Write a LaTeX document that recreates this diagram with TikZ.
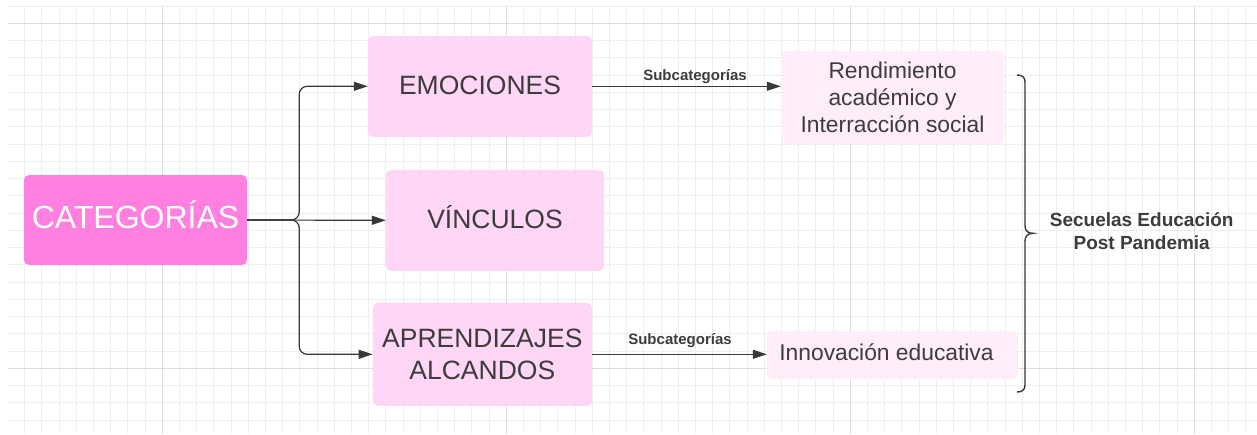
\documentclass[tikz,border=0pt]{standalone}
\usepackage{fontspec}
\setmainfont{Liberation Sans}
\usetikzlibrary{arrows.meta,calc}
\definecolor{catpink}{HTML}{FF80DF}
\definecolor{boxpink}{HTML}{FFD6F5}
\definecolor{palepink}{HTML}{FFEEFA}
\definecolor{txt}{HTML}{3C3C3C}
\definecolor{lin}{HTML}{383838}
\definecolor{gridminor}{HTML}{EEEEEE}
\definecolor{gridmajor}{HTML}{DDDDDD}
\tikzset{
  catbox/.style={rectangle, rounded corners=5pt, fill=catpink, text=white,
    font=\fontsize{32}{38}\selectfont, minimum width=223pt, minimum height=90pt, inner sep=0pt},
  mainbox/.style={rectangle, rounded corners=5pt, fill=boxpink, text=txt,
    font=\fontsize{26.5}{32}\selectfont, align=center, inner sep=0pt},
  subbox/.style={rectangle, rounded corners=5pt, fill=palepink, text=txt,
    font=\fontsize{22.8}{27.3}\selectfont, align=center, inner sep=0pt},
  conn/.style={draw=lin, line width=1.2pt, rounded corners=8pt, -{Triangle[length=14pt,width=9pt]}},
  sublabel/.style={font=\bfseries\fontsize{15}{18}\selectfont, text=txt, inner sep=0pt},
  endlabel/.style={font=\bfseries\fontsize{19}{23.3}\selectfont, text=txt, align=center, inner sep=0pt},
}
\begin{document}
\begin{tikzpicture}[x=1pt,y=-1pt]
\useasboundingbox (0,0) rectangle (1257,434);
\fill[white] (0,0) rectangle (1257,434);
\begin{scope}
  \clip (8,6) rectangle (1257,434);
  \foreach \i in {-9,...,64} \draw[gridminor, line width=1pt] ({162.3+17.2*\i},0) -- ++(0,434);
  \foreach \i in {-2,...,24} \draw[gridminor, line width=1pt] (0,{23.3+17.25*\i}) -- ++(1257,0);
  \foreach \x in {162.3,506.3,850.3,1194.3} \draw[gridmajor, line width=1.4pt] (\x,0) -- ++(0,434);
  \foreach \y in {23.3,368.3} \draw[gridmajor, line width=1.4pt] (0,\y) -- ++(1257,0);
\end{scope}

\node[catbox, text height=24pt, text depth=7.4pt] (cat) at (135.5,220) {CATEGORÍAS};
\node[mainbox, minimum width=224pt, minimum height=101pt, text height=20pt, text depth=4.4pt] (emo) at (480,86.3) {EMOCIONES};
\node[mainbox, minimum width=218pt, minimum height=101pt, text height=22pt, text depth=6pt] (vin) at (495,220.3) {VÍNCULOS};
\node[mainbox, minimum width=219pt, minimum height=103pt] (apr) at (482.3,354.3) {APRENDIZAJES\\ALCANDOS};
\node[subbox, minimum width=223pt, minimum height=93pt] (ren) at (892.5,97.5) {Rendimiento\\académico y\\Interracción social};
\node[subbox, minimum width=251pt, minimum height=48pt, text height=16pt, text depth=6pt] (inn) at (892.5,355) {Innovación educativa\hspace{12pt}};

\coordinate (j) at ($(cat.east)+(52,0)$);
\draw[conn] (cat.east) -- (j) |- (emo.west);
\draw[conn] (cat.east) -- (vin.west);
\draw[conn] (cat.east) -- (j) |- (apr.west);

\draw[conn] (emo.east) -- (emo.east -| ren.west);
\draw[conn] (apr.east) -- (apr.east -| inn.west);
\node[sublabel, anchor=base] (s1) at (695,80.5) {Subcategorías};
\node[sublabel, anchor=base] (s2) at (680,344.7) {Subcategorías};

\draw[lin, line width=1.4pt] (1017,75) .. controls (1022,75) and (1025,77) .. (1025,82)
  -- (1025,226) .. controls (1025,231) and (1028,233.3) .. (1033,233.3)
  .. controls (1028,233.3) and (1025,236) .. (1025,241)
  -- (1025,385) .. controls (1025,390) and (1022,392) .. (1017,392);
\node[endlabel] (sec) at (1141.7,231.4) {Secuelas Educación\\Post Pandemia};
\end{tikzpicture}
\end{document}
